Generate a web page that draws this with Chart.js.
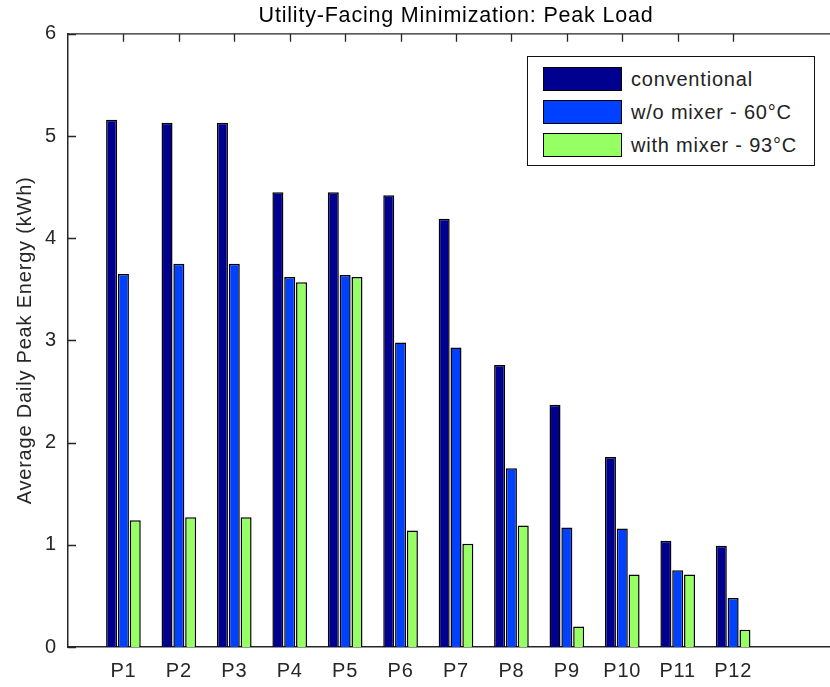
<!DOCTYPE html>
<html>
<head>
<meta charset="utf-8">
<script src="https://cdn.jsdelivr.net/npm/chart.js@4/dist/chart.umd.min.js"></script>
<style>
  html, body { margin: 0; padding: 0; background: #fff; overflow: hidden; }
  #wrap { position: relative; width: 830px; height: 687px; overflow: hidden; }
  #c { position: absolute; left: 0; top: 0; }
  #legend {
    position: absolute; left: 527px; top: 56px; width: 288px; height: 110px;
    border: 1.5px solid #111; background: #fff; box-sizing: border-box;
    font: 20px "Liberation Sans", Arial, sans-serif; letter-spacing: 0.8px; color: #222;
  }
  .item { position: absolute; left: 15px; height: 24px; display: flex; align-items: center; }
  .sw { width: 79px; height: 24px; box-sizing: border-box; border: 1.5px solid #000; margin-right: 9px; }
</style>
</head>
<body>
<div id="wrap">
  <canvas id="c" width="844" height="687"></canvas>
  <div id="legend"></div>
</div>
<script>
// Households / profiles on the x axis
const categories = ['P1', 'P2', 'P3', 'P4', 'P5', 'P6', 'P7', 'P8', 'P9', 'P10', 'P11', 'P12'];
const seriesNames = ['conventional', 'w/o mixer - 60°C', 'with mixer - 93°C'];
// Average daily peak energy (kWh)
const conventional = [5.16, 5.13, 5.13, 4.45, 4.45, 4.42, 4.19, 2.76, 2.37, 1.86, 1.04, 0.99];
const withoutMixer = [3.65, 3.75, 3.75, 3.62, 3.64, 2.98, 2.93, 1.75, 1.17, 1.16, 0.75, 0.48];
const withMixer    = [1.24, 1.27, 1.27, 3.57, 3.62, 1.14, 1.01, 1.19, 0.20, 0.71, 0.71, 0.17];
const yTicks = [0, 1, 2, 3, 4, 5, 6];

const colors = ['#000090', '#0040FF', '#96FF64'];
const FONT = '"Liberation Sans", Arial, sans-serif';
const TICK = 8;

const toPoints = vals => vals.map((v, i) => ({ x: i + 1, y: v }));

// canvas letter spacing to mimic the wide text rendering
const spacing = {
  id: 'spacing',
  beforeLayout(chart) { chart.ctx.letterSpacing = '0.8px'; },
  beforeDraw(chart) { chart.ctx.letterSpacing = '0.8px'; }
};

// inward tick marks plus the top border line
const innerTicks = {
  id: 'innerTicks',
  beforeDatasetsDraw(chart) {
    const { ctx, chartArea: a, scales: { x, y } } = chart;
    ctx.save();
    ctx.strokeStyle = '#262626';
    ctx.lineWidth = 1.3;
    ctx.beginPath();
    ctx.moveTo(a.left, a.top);
    ctx.lineTo(a.right, a.top);
    x.ticks.forEach(t => {
      const px = Math.round(x.getPixelForValue(t.value)) + 0.5;
      ctx.moveTo(px, a.top); ctx.lineTo(px, a.top + TICK);
      ctx.moveTo(px, a.bottom); ctx.lineTo(px, a.bottom - TICK);
    });
    y.ticks.forEach(t => {
      const py = Math.round(y.getPixelForValue(t.value)) + 0.5;
      ctx.moveTo(a.left, py); ctx.lineTo(a.left + TICK, py);
    });
    ctx.stroke();
    ctx.restore();
  }
};

const datasets = [conventional, withoutMixer, withMixer].map((vals, k) => ({
  label: seriesNames[k],
  data: toPoints(vals),
  backgroundColor: colors[k],
  borderColor: '#000',
  borderWidth: 1.5,
  borderSkipped: 'start',
  categoryPercentage: 0.64,
  barPercentage: 0.93
}));

const chart = new Chart(document.getElementById('c'), {
  type: 'bar',
  data: { datasets },
  plugins: [spacing, innerTicks],
  options: {
    responsive: false,
    animation: false,
    events: [],
    layout: { padding: { left: 0, right: 0, top: 0, bottom: 0 } },
    plugins: {
      legend: { display: false },
      tooltip: { enabled: false },
      title: {
        display: true,
        fullSize: false,
        text: 'Utility-Facing Minimization: Peak Load',
        color: '#000',
        font: { family: FONT, size: 21.5, weight: 'normal' },
        padding: { top: 3, bottom: 5 }
      }
    },
    scales: {
      x: {
        type: 'linear',
        min: 0,
        max: 14,
        offset: false,
        grid: { display: false, drawTicks: false },
        border: { display: true, color: '#262626', width: 1.5 },
        afterBuildTicks: s => { s.ticks = categories.map((_, i) => ({ value: i + 1 })); },
        afterFit: s => { s.height = 40; },
        ticks: {
          color: '#262626',
          font: { family: FONT, size: 20 },
          padding: 12,
          maxRotation: 0,
          autoSkip: false,
          callback: v => categories[v - 1]
        }
      },
      y: {
        min: 0,
        max: 6,
        grid: { display: false, drawTicks: false },
        border: { display: true, color: '#262626', width: 1.5 },
        afterBuildTicks: s => { s.ticks = yTicks.map(v => ({ value: v })); },
        afterFit: s => { s.width = 68; },
        ticks: {
          color: '#262626',
          font: { family: FONT, size: 20 },
          padding: 11
        },
        title: {
          display: true,
          text: 'Average Daily Peak Energy (kWh)',
          color: '#262626',
          font: { family: FONT, size: 20 },
          padding: { top: 13, bottom: 0 }
        }
      }
    }
  }
});

// legend box built from the chart's datasets
const legend = document.getElementById('legend');
chart.data.datasets.forEach((ds, i) => {
  const row = document.createElement('div');
  row.className = 'item';
  row.style.top = (10 + i * 33) + 'px';
  const sw = document.createElement('div');
  sw.className = 'sw';
  sw.style.background = ds.backgroundColor;
  const txt = document.createElement('span');
  txt.textContent = ds.label;
  row.appendChild(sw);
  row.appendChild(txt);
  legend.appendChild(row);
});
</script>
</body>
</html>
